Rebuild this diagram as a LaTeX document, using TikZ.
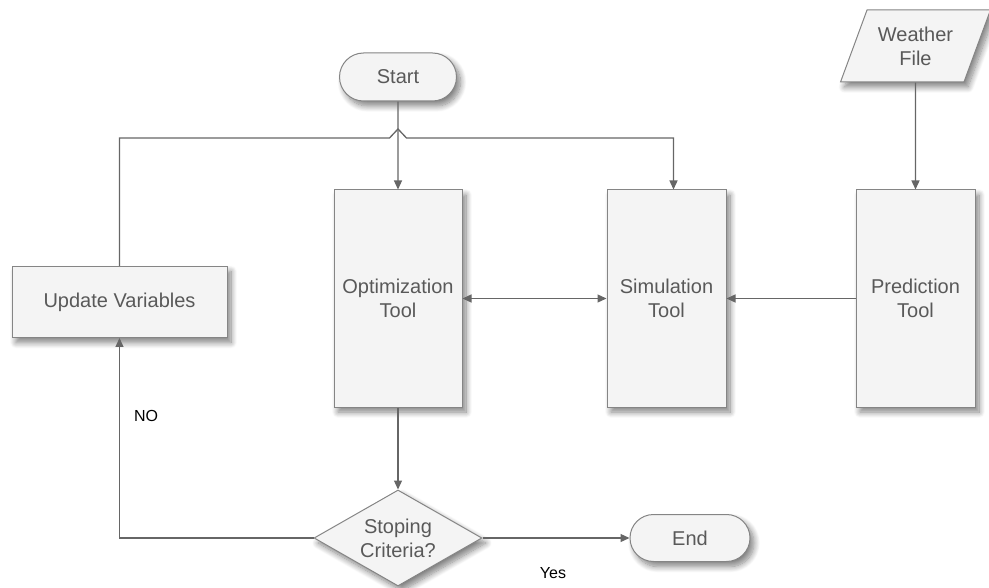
\documentclass[tikz,border=0pt]{standalone}
\usepackage{fontspec}
\setmainfont{Liberation Sans}
\usetikzlibrary{shapes.geometric,shapes.misc,arrows.meta,shadows.blur}
\definecolor{boxfill}{HTML}{F4F4F4}
\definecolor{boxline}{HTML}{858585}
\definecolor{conn}{HTML}{666666}
\definecolor{txt}{HTML}{595959}
\tikzset{
  base/.style={draw=boxline, fill=boxfill, line width=1pt, text=txt,
    font=\fontsize{20}{24}\selectfont, align=center, inner sep=0pt,
    blur shadow={shadow xshift=4pt, shadow yshift=-5pt, shadow blur steps=10, shadow opacity=50, shadow blur radius=6pt}},
  boxnode/.style={base, rectangle},
  term/.style={base, rounded rectangle},
  decide/.style={base, diamond, aspect=1.75},
  datanode/.style={base, trapezium, trapezium left angle=62, trapezium right angle=118, trapezium stretches=true},
  conn/.style={draw=conn, line width=1.3pt},
  tip/.tip={Triangle[length=9pt,width=8pt]},
  arr/.style={conn, -tip},
  dblarr/.style={conn, tip-tip},
  lbl/.style={font=\fontsize{16}{18}\selectfont, text=black}
}
\begin{document}
\begin{tikzpicture}[x=1pt,y=-1pt]
\useasboundingbox (0,0) rectangle (989,588);
\node[term, minimum width=117pt, minimum height=48pt] (start) at (398,77) {Start};
\node[datanode, minimum width=150pt, minimum height=72pt] (weather) at (915.5,46) {Weather\\File};
\node[boxnode, minimum width=128pt, minimum height=217pt] (opt) at (398,298.5) {Optimization\\Tool};
\node[boxnode, minimum width=119pt, minimum height=217pt] (sim) at (666.5,298.5) {Simulation\\Tool};
\node[boxnode, minimum width=119pt, minimum height=217pt] (pred) at (915.5,298.5) {Prediction\\Tool};
\node[boxnode, minimum width=215pt, minimum height=71pt] (upd) at (119.5,302) {Update Variables};
\node[decide, minimum width=168pt, minimum height=96pt] (stop) at (398,538) {Stoping\\Criteria?};
\node[term, minimum width=120pt, minimum height=47pt] (end) at (690,538) {End};
\node[lbl] (no) at (146,416) {NO};
\node[lbl] (yes) at (553,573) {Yes};
\coordinate (j1) at (389.5,138);
\coordinate (j2) at (398,129);
\coordinate (j3) at (406.5,138);
\draw[arr] (start) -- (opt);
\draw[arr] (upd.north) |- (j1) -- (j2) -- (j3) -| ([xshift=7pt]sim.north);
\draw[arr] (weather) -- (pred);
\draw[arr] (pred) -- (sim);
\draw[dblarr] (opt) -- (sim);
\draw[arr] (opt) -- (stop);
\draw[arr] (stop) -- (end);
\draw[arr] (stop.west) -| (upd.south);
\end{tikzpicture}
\end{document}
